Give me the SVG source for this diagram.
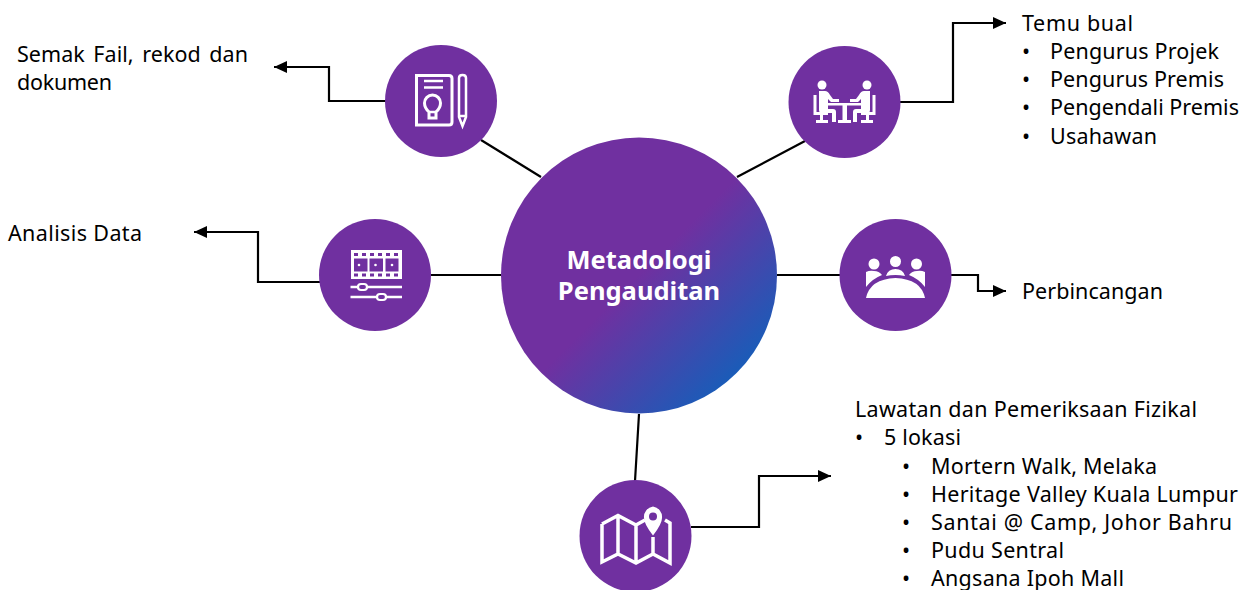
<svg xmlns="http://www.w3.org/2000/svg" width="1250" height="590" viewBox="0 0 1250 590">
<style>
text{font-family:"Noto Sans","DejaVu Sans",sans-serif;font-size:21.500px;fill:#000}
text.title{font-family:"Noto Sans",sans-serif;font-size:25.500px;font-weight:700;fill:#fff;text-anchor:middle}
.c{fill:#7030a0}
.ln{fill:none;stroke:#000;stroke-width:2.200}
.w{fill:none;stroke:#fff;stroke-width:3}
.w4{fill:none;stroke:#fff;stroke-width:3.500;stroke-linejoin:miter}
.w2{fill:none;stroke:#fff;stroke-width:2.500}
.f{fill:#fff}
</style>
<defs>
<linearGradient id="g" gradientUnits="userSpaceOnUse" x1="540" y1="177" x2="737" y2="374">
<stop offset="0" stop-color="#7030a0"/><stop offset="0.5" stop-color="#7030a0"/><stop offset="1" stop-color="#1a5cb8"/>
</linearGradient>
<marker id="a" markerUnits="userSpaceOnUse" markerWidth="13" markerHeight="12" refX="13" refY="6" orient="auto"><path d="M0 0L13 6L0 12Z" fill="#000"/></marker>
</defs>
<g id="connectors">
<path class="ln" d="M481 140L541 177M737 177L805 141M431 275H501M777 275H840M639 414L635 481"/>
<path class="ln" marker-end="url(#a)" d="M386 101H329V67H274"/>
<path class="ln" marker-end="url(#a)" d="M900 102H953V23H1006"/>
<path class="ln" marker-end="url(#a)" d="M320 282H258V232H194"/>
<path class="ln" marker-end="url(#a)" d="M951 275H978V291H1006"/>
<path class="ln" marker-end="url(#a)" d="M691 527H759V476H831"/>
</g>
<g id="center"><circle cx="639" cy="275.500" r="138" fill="url(#g)"/>
<text class="title" x="639" y="269">Metadologi</text><text class="title" x="639" y="300">Pengauditan</text></g>
<g id="node-doc"><circle class="c" cx="441" cy="101" r="56"/>
<path class="w" d="M416.500 75.500H449Q452 75.500 452 78.500V122Q452 125 449 125H416.500Z"/>
<path class="w2" d="M424 81H443M424 87.500H443"/>
<path class="w" d="M429 118V112Q424.500 108 424.500 103A8 8 0 0 1 440.500 103Q440.500 108 436 112V118Z"/>
<path class="w2" d="M429 112H436"/>
<path class="w2" d="M459 78Q459 75 462.500 75Q466 75 466 78V117L462.500 126L459 117Z"/>
<path class="w2" d="M459 116H466"/></g>
<g id="node-interview"><circle class="c" cx="844.500" cy="102" r="56"/>
<circle class="f" cx="822" cy="85" r="4.500"/><circle class="f" cx="867" cy="85" r="4.500"/>
<path class="f" d="M819 91H825Q828 91 830 95L833 99H839V102H831L828 99V109H833Q836 109 836 112V122H832V113H822Q819 113 819 110Z"/>
<path class="f" d="M870 91H864Q861 91 859 95L856 99H850V102H858L861 99V109H856Q853 109 853 112V122H857V113H867Q870 113 870 110Z"/>
<path class="f" d="M813.500 95H816.500V112H828V115H823V120H828V123H816V120H820V115H813.500ZM875.500 95H872.500V112H861V115H866V120H861V123H873V120H869V115H875.500Z"/>
<path class="f" d="M827 103H862V105.500H847V120H851V123H838V120H842.500V105.500H827Z"/></g>
<g id="node-analysis"><circle class="c" cx="375" cy="275" r="56"/>
<rect class="f" x="351" y="250" width="51" height="29"/>
<g class="c"><rect x="354" y="253" width="4" height="3"/><rect x="362" y="253" width="4" height="3"/><rect x="370" y="253" width="4" height="3"/><rect x="378" y="253" width="4" height="3"/><rect x="386" y="253" width="4" height="3"/><rect x="394" y="253" width="4" height="3"/>
<rect x="354" y="273.500" width="4" height="3"/><rect x="362" y="273.500" width="4" height="3"/><rect x="370" y="273.500" width="4" height="3"/><rect x="378" y="273.500" width="4" height="3"/><rect x="386" y="273.500" width="4" height="3"/><rect x="394" y="273.500" width="4" height="3"/>
<rect x="354" y="258.500" width="13.500" height="13"/><rect x="369.500" y="258.500" width="13.500" height="13"/><rect x="385.500" y="258.500" width="13" height="13"/></g>
<circle class="f" cx="359" cy="265" r="1.300"/><circle class="f" cx="375.500" cy="265" r="1.300"/><circle class="f" cx="392" cy="265" r="1.300"/>
<path class="w2" d="M350.500 287H402M350.500 297H402"/>
<rect x="358" y="284" width="9" height="6" rx="3" fill="#7030a0" stroke="#fff" stroke-width="2.200"/>
<rect x="377" y="294" width="9" height="6" rx="3" fill="#7030a0" stroke="#fff" stroke-width="2.200"/></g>
<g id="node-discussion"><circle class="c" cx="895.500" cy="275" r="56"/>
<circle class="f" cx="874" cy="264" r="5.500"/><circle class="f" cx="895.500" cy="261.500" r="5.500"/><circle class="f" cx="916.500" cy="264" r="5.500"/>
<path class="f" d="M866 272Q870 270 874 271Q879 271 882 275Q872 279 866 287ZM886 276Q888 269 895.500 269Q903 269 905 276Q900 275 895.500 275Q890 275 886 276ZM925 272Q921 270 917 271Q912 271 909 275Q919 279 925 287Z"/>
<path class="f" d="M866 298Q870 279 895.500 278Q921 279 925 298Z"/></g>
<g id="node-map"><circle class="c" cx="635.500" cy="536" r="56"/>
<path class="w4" d="M602 524V562L618 554L636 563L653 554L670 563V523L665 520M602 524L618 515.500L636 525L645 520M618 515.500V554M636 525V563M653 537V554"/>
<path class="f" d="M653 506.500A10.500 10.500 0 0 1 662 518Q662 524 653 535.500Q644 524 644 518A10.500 10.500 0 0 1 653 506.500Z"/>
<circle class="c" cx="653" cy="516.500" r="4"/></g>
<g id="labels">
<text x="17" y="62" textLength="231" lengthAdjust="spacing" word-spacing="3">Semak Fail, rekod dan</text>
<text x="17" y="90" textLength="95" lengthAdjust="spacing">dokumen</text>
<text x="8" y="241" textLength="134" lengthAdjust="spacing">Analisis Data</text>
<text x="1022" y="31" textLength="111" lengthAdjust="spacing">Temu bual</text>
<text x="1022" y="59">•</text><text x="1050" y="59" textLength="169" lengthAdjust="spacing">Pengurus Projek</text>
<text x="1022" y="87">•</text><text x="1050" y="87" textLength="174" lengthAdjust="spacing">Pengurus Premis</text>
<text x="1022" y="115">•</text><text x="1050" y="115" textLength="189" lengthAdjust="spacing">Pengendali Premis</text>
<text x="1022" y="144">•</text><text x="1050" y="144" textLength="107" lengthAdjust="spacing">Usahawan</text>
<text x="1022" y="299" textLength="141" lengthAdjust="spacing">Perbincangan</text>
<text x="855" y="417" textLength="342" lengthAdjust="spacing">Lawatan dan Pemeriksaan Fizikal</text>
<text x="855" y="445">•</text><text x="884" y="445" textLength="77" lengthAdjust="spacing">5 lokasi</text>
<text x="902" y="474">•</text><text x="931" y="474" textLength="226" lengthAdjust="spacing">Mortern Walk, Melaka</text>
<text x="902" y="502">•</text><text x="931" y="502" textLength="307" lengthAdjust="spacing">Heritage Valley Kuala Lumpur</text>
<text x="902" y="530">•</text><text x="931" y="530" textLength="301" lengthAdjust="spacing">Santai @ Camp, Johor Bahru</text>
<text x="902" y="558">•</text><text x="931" y="558" textLength="133" lengthAdjust="spacing">Pudu Sentral</text>
<text x="902" y="586">•</text><text x="931" y="586" textLength="193" lengthAdjust="spacing">Angsana Ipoh Mall</text>
</g>
</svg>
